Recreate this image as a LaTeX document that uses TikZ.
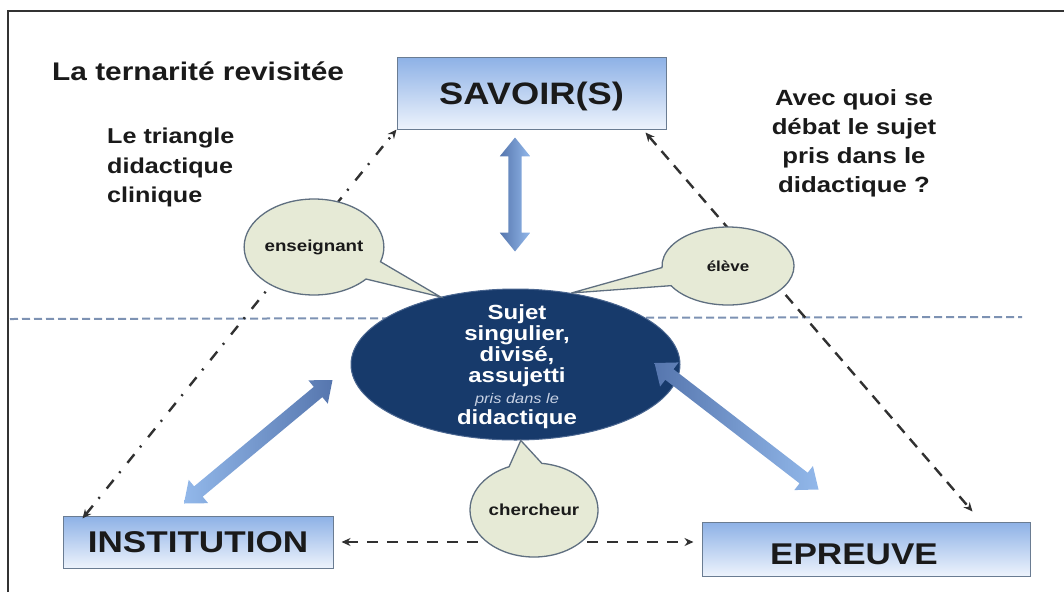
\documentclass[tikz,border=0pt]{standalone}
\usepackage{fontspec}
\setmainfont{Liberation Sans}[FakeStretch=1.17]
\usetikzlibrary{shapes.geometric,shapes.arrows,shapes.callouts,arrows.meta,calc}
\definecolor{navy}{HTML}{173A6B}
\definecolor{navyline}{HTML}{4A6690}
\definecolor{bubble}{HTML}{E6EAD6}
\definecolor{bubbleline}{HTML}{5F6F80}
\definecolor{boxtop}{HTML}{8DB1E6}
\definecolor{boxbot}{HTML}{EDF3FC}
\definecolor{boxline}{HTML}{6A7C92}
\definecolor{arrdark}{HTML}{5676AE}
\definecolor{arrlight}{HTML}{92B8EA}
\definecolor{hline}{HTML}{7D92B3}
\definecolor{ink}{HTML}{1A1A1A}
\definecolor{framecol}{HTML}{333333}
\definecolor{palesub}{HTML}{C8D2E4}
\tikzset{
  titlebox/.style={draw=boxline, line width=1pt, top color=boxtop, bottom color=boxbot,
    inner sep=0pt, font=\bfseries\fontsize{31}{31}\selectfont, text=ink},
  bubblenode/.style={ellipse callout, fill=bubble, draw=bubbleline, line width=1.3pt,
    inner sep=0pt, font=\bfseries\fontsize{16}{16}\selectfont, text=ink},
  fatarrow/.style={double arrow, inner xsep=0pt, inner ysep=6.5pt, minimum width=13pt,
    double arrow head extend=8.5pt, double arrow tip angle=78},
  thinconn/.style={line width=2.4pt, draw=ink!90,
    arrows={Stealth[length=9pt,width=8pt]-Stealth[length=9pt,width=8pt]}},
  plaintext/.style={inner sep=0pt, text=ink},
}
\newcommand\fatarr[4]{%
  \path let \p1=($(#2)-(#1)$), \n1={veclen(\x1,\y1)} in (#1) -- (#2)
    node[fatarrow, midway, sloped, minimum height=\n1, left color=#3, right color=#4] {};}
\begin{document}
\begin{tikzpicture}[x=1pt,y=-1pt]
\useasboundingbox (0,0) rectangle (1064,592);
% frame
\draw[framecol, line width=1.5pt] (8,592) -- (8,11) -- (1064,11);
% texts
\node[plaintext, anchor=base west, font=\bfseries\fontsize{25.5}{30}\selectfont] (title) at (52,80) {La ternarité revisitée};
\node[plaintext, anchor=north west, align=left, font=\bfseries\fontsize{21.5}{29.5}\selectfont] (tri) at (107,128) {Le triangle\\didactique\\clinique};
\node[plaintext, anchor=north, align=center, font=\bfseries\fontsize{22}{29}\selectfont] (avec) at (854,89) {Avec quoi se\\débat le sujet\\pris dans le\\didactique ?};
% boxes
\node[titlebox, minimum width=269pt, minimum height=72pt, text height=23pt, text depth=0pt] (savoir) at (531.5,93) {SAVOIR(S)};
\node[titlebox, minimum width=270pt, minimum height=52pt, font=\bfseries\fontsize{30}{30}\selectfont] (inst) at (198,542) {INSTITUTION};
\node[titlebox, minimum width=328pt, minimum height=54pt, text height=30pt, text depth=0pt, font=\bfseries\fontsize{30}{30}\selectfont] (epr) at (866,549) {EPREUVE\hspace*{24pt}};
% horizontal dashed line
\coordinate (hl) at (10,319);
\coordinate (hr) at (1022,317);
\draw[hline, line width=2pt, dash pattern=on 8pt off 4pt] (hl) -- (hr);
% thin connectors
\draw[thinconn, dash pattern=on 11pt off 9pt on 2pt off 11pt] ($(inst.north west)+(20,3)$) -- (savoir.south west);
\draw[thinconn, dash pattern=on 11pt off 8pt] ($(savoir.south east)+(-21,3)$) -- ($(epr.north east)+(-58,-10)$);
\draw[thinconn, dash pattern=on 11pt off 9pt] ($(inst.east)+(8,0)$) -- ($(epr.west)+(-8,-7)$);
% central ellipse
\node[ellipse, fill=navy, draw=navyline, line width=1pt, minimum width=329pt, minimum height=151pt, inner sep=0pt] (sujet) at (515.5,364.5) {};
\node[inner sep=0pt, anchor=north, align=center, text=white, font=\bfseries\fontsize{20.5}{21}\selectfont] (sujettxt) at (517,304)
  {Sujet\\singulier,\\divisé,\\assujetti\\{\fontsize{14}{21}\selectfont\mdseries\itshape\color{palesub}pris dans le}\\didactique};
% callouts
\node[bubblenode, minimum width=124pt, minimum height=96pt, callout pointer arc=24, callout absolute pointer={(sujet.138)}] (ens) at (314,247) {enseignant};
\node[bubblenode, minimum width=132pt, minimum height=78pt, callout pointer arc=28, callout absolute pointer={(sujet.52)}, font=\bfseries\fontsize{14.5}{14.5}\selectfont] (eleve) at (728,266) {élève};
\node[bubblenode, minimum width=112pt, minimum height=94pt, callout pointer arc=30, callout absolute pointer={(sujet.-86)}] (cherch) at (534,510) {chercheur};
% fat double arrows
\coordinate (vA) at ($(savoir.south)+(-16.5,8)$);
\coordinate (vB) at ($(sujet.north)+(-0.5,-37)$);
\coordinate (iA) at ($(inst.north)+(-14,-12)$);
\coordinate (iB) at ($(sujet.west)+(-18,15.5)$);
\coordinate (eA) at ($(sujet.east)+(-26,-1.5)$);
\coordinate (eB) at ($(epr.north west)+(117,-32)$);
\fatarr{vA}{vB}{arrdark}{arrlight}
\fatarr{iA}{iB}{arrlight}{arrdark}
\fatarr{eA}{eB}{arrdark}{arrlight}
\end{tikzpicture}
\end{document}
